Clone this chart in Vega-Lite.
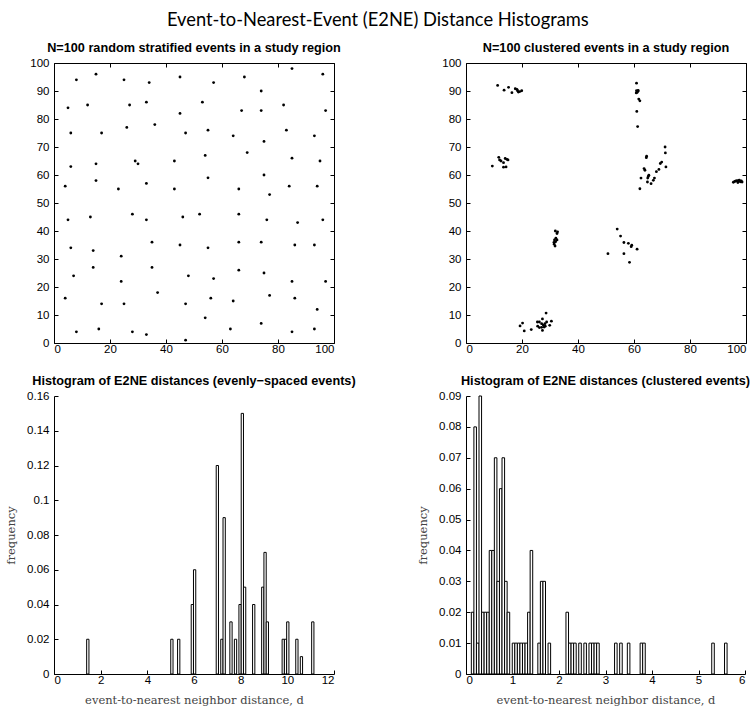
{
  "$schema": "https://vega.github.io/schema/vega-lite/v6.json",
  "background": "white",
  "padding": {"left": 5, "top": 11, "right": 0, "bottom": 0},
  "title": {"text": "Event-to-Nearest-Event (E2NE) Distance Histograms", "font": "Lato", "fontSize": 18.3, "fontWeight": "normal", "color": "black", "anchor": "middle", "offset": 12},
  "config": {
    "view": {"stroke": null},
    "axis": {"grid": false, "domainColor": "black", "domainWidth": 1, "tickColor": "black", "tickWidth": 1, "tickSize": -4, "labelColor": "black", "labelFont": "Liberation Sans", "labelFontSize": 11.5, "titleFont": "DejaVu Serif", "titleFontSize": 11.5, "titleFontWeight": "normal", "titleColor": "#444"},
    "axisX": {"labelPadding": 4},
    "axisY": {"labelPadding": 9},
    "title": {"font": "Liberation Sans", "fontSize": 12.7, "fontWeight": "bold", "color": "black", "offset": 2}
  },
  "datasets": {
    "stratified": [
      {"x": 8, "y": 94}, {"x": 15, "y": 96}, {"x": 25, "y": 94}, {"x": 34, "y": 93}, {"x": 45, "y": 95}, {"x": 57, "y": 93}, {"x": 68, "y": 95}, {"x": 74, "y": 90}, {"x": 85, "y": 98}, {"x": 96, "y": 96},
      {"x": 5, "y": 84}, {"x": 12, "y": 85}, {"x": 27, "y": 85}, {"x": 33, "y": 86}, {"x": 45, "y": 82}, {"x": 53, "y": 86}, {"x": 67, "y": 83}, {"x": 74, "y": 83}, {"x": 82, "y": 85}, {"x": 97, "y": 83},
      {"x": 6, "y": 75}, {"x": 17, "y": 75}, {"x": 26, "y": 77}, {"x": 36, "y": 78}, {"x": 47, "y": 75}, {"x": 55, "y": 76}, {"x": 64, "y": 74}, {"x": 75, "y": 72}, {"x": 83, "y": 76}, {"x": 93, "y": 74},
      {"x": 69, "y": 68}, {"x": 29, "y": 65}, {"x": 30, "y": 64}, {"x": 15, "y": 64}, {"x": 6, "y": 63}, {"x": 43, "y": 65}, {"x": 54, "y": 67}, {"x": 85, "y": 66}, {"x": 95, "y": 65},
      {"x": 4, "y": 56}, {"x": 15, "y": 58}, {"x": 23, "y": 55}, {"x": 33, "y": 57}, {"x": 43, "y": 55}, {"x": 55, "y": 59}, {"x": 66, "y": 55}, {"x": 75, "y": 60}, {"x": 77, "y": 53}, {"x": 84, "y": 56}, {"x": 94, "y": 56},
      {"x": 5, "y": 44}, {"x": 13, "y": 45}, {"x": 28, "y": 46}, {"x": 33, "y": 44}, {"x": 46, "y": 45}, {"x": 52, "y": 46}, {"x": 66, "y": 46}, {"x": 76, "y": 44}, {"x": 87, "y": 43}, {"x": 96, "y": 44},
      {"x": 6, "y": 34}, {"x": 14, "y": 33}, {"x": 35, "y": 36}, {"x": 45, "y": 35}, {"x": 55, "y": 34}, {"x": 66, "y": 36}, {"x": 74, "y": 36}, {"x": 86, "y": 35}, {"x": 93, "y": 35},
      {"x": 7, "y": 24}, {"x": 14, "y": 27}, {"x": 24, "y": 31}, {"x": 35, "y": 27}, {"x": 48, "y": 24}, {"x": 57, "y": 23}, {"x": 66, "y": 26}, {"x": 75, "y": 25}, {"x": 85, "y": 22}, {"x": 97, "y": 22}, {"x": 24, "y": 22},
      {"x": 4, "y": 16}, {"x": 17, "y": 14}, {"x": 25, "y": 14}, {"x": 37, "y": 18}, {"x": 47, "y": 14}, {"x": 56, "y": 16}, {"x": 64, "y": 15}, {"x": 77, "y": 17}, {"x": 86, "y": 16}, {"x": 94, "y": 12},
      {"x": 54, "y": 9}, {"x": 8, "y": 4}, {"x": 16, "y": 5}, {"x": 28, "y": 4}, {"x": 33, "y": 3}, {"x": 47, "y": 1}, {"x": 63, "y": 5}, {"x": 74, "y": 7}, {"x": 85, "y": 4}, {"x": 93, "y": 5}
    ],
    "clustered": [
      {"x": 11.3, "y": 92.0}, {"x": 13.6, "y": 90.3}, {"x": 15.2, "y": 91.3}, {"x": 16.4, "y": 89.4}, {"x": 17.6, "y": 90.8}, {"x": 18.4, "y": 90.1}, {"x": 18.7, "y": 89.6}, {"x": 19.9, "y": 90.1}, {"x": 18.2, "y": 90.6}, {"x": 19.2, "y": 89.8},
      {"x": 9.4, "y": 63.2}, {"x": 11.7, "y": 66.3}, {"x": 12.0, "y": 65.4}, {"x": 12.5, "y": 65.0}, {"x": 13.4, "y": 64.4}, {"x": 14.0, "y": 65.9}, {"x": 14.3, "y": 62.9}, {"x": 15.0, "y": 65.4}, {"x": 13.4, "y": 62.8}, {"x": 14.6, "y": 65.6},
      {"x": 31.9, "y": 40.0}, {"x": 32.5, "y": 39.1}, {"x": 32.7, "y": 39.7}, {"x": 31.6, "y": 36.8}, {"x": 32.0, "y": 36.2}, {"x": 31.5, "y": 35.3}, {"x": 31.8, "y": 34.6}, {"x": 32.5, "y": 36.8}, {"x": 32.1, "y": 37.4}, {"x": 31.4, "y": 35.9},
      {"x": 54.0, "y": 40.7}, {"x": 55.2, "y": 38.2}, {"x": 56.4, "y": 35.9}, {"x": 58.0, "y": 35.6}, {"x": 59.0, "y": 34.4}, {"x": 59.2, "y": 34.9}, {"x": 61.1, "y": 33.5}, {"x": 50.7, "y": 31.9}, {"x": 56.4, "y": 31.9}, {"x": 58.4, "y": 28.8},
      {"x": 60.9, "y": 92.8}, {"x": 60.9, "y": 90.1}, {"x": 61.1, "y": 89.5}, {"x": 61.5, "y": 90.2}, {"x": 60.8, "y": 89.3}, {"x": 61.7, "y": 87.1}, {"x": 62.1, "y": 86.5}, {"x": 61.0, "y": 82.7}, {"x": 61.3, "y": 77.3}, {"x": 61.4, "y": 89.9},
      {"x": 71.1, "y": 70.0}, {"x": 71.2, "y": 67.9}, {"x": 64.4, "y": 66.2}, {"x": 64.5, "y": 66.7}, {"x": 69.9, "y": 64.6}, {"x": 69.4, "y": 64.1}, {"x": 71.4, "y": 62.9}, {"x": 63.6, "y": 62.3}, {"x": 63.9, "y": 61.7}, {"x": 68.9, "y": 62.0},
      {"x": 68.0, "y": 61.2}, {"x": 62.5, "y": 58.9}, {"x": 65.1, "y": 59.5}, {"x": 64.9, "y": 58.9}, {"x": 67.3, "y": 58.9}, {"x": 66.9, "y": 58.1}, {"x": 64.8, "y": 57.5}, {"x": 66.1, "y": 56.9}, {"x": 62.1, "y": 55.1}, {"x": 65.3, "y": 59.9},
      {"x": 28.6, "y": 10.7}, {"x": 19.3, "y": 6.1}, {"x": 20.2, "y": 7.1}, {"x": 20.8, "y": 4.3}, {"x": 23.3, "y": 4.8}, {"x": 25.5, "y": 7.5}, {"x": 26.2, "y": 7.5}, {"x": 25.6, "y": 6.0}, {"x": 26.2, "y": 5.5}, {"x": 27.3, "y": 8.6},
      {"x": 27.0, "y": 6.9}, {"x": 27.6, "y": 6.4}, {"x": 28.2, "y": 6.9}, {"x": 28.3, "y": 6.0}, {"x": 27.9, "y": 5.7}, {"x": 28.8, "y": 7.5}, {"x": 27.3, "y": 4.5}, {"x": 29.9, "y": 6.3}, {"x": 30.5, "y": 7.8}, {"x": 27.0, "y": 5.6},
      {"x": 95.5, "y": 57.4}, {"x": 96.0, "y": 57.7}, {"x": 96.4, "y": 57.9}, {"x": 96.9, "y": 58.0}, {"x": 97.3, "y": 57.8}, {"x": 97.6, "y": 58.2}, {"x": 98.0, "y": 57.6}, {"x": 98.3, "y": 57.9}, {"x": 98.6, "y": 57.5}, {"x": 97.1, "y": 57.3}
    ],
    "hist_even": [
      {"bin_start": 1.4000, "bin_end": 1.4974, "frequency": 0.02},
      {"bin_start": 5.0038, "bin_end": 5.1012, "frequency": 0.02},
      {"bin_start": 5.2960, "bin_end": 5.3934, "frequency": 0.02},
      {"bin_start": 5.8804, "bin_end": 5.9778, "frequency": 0.04},
      {"bin_start": 5.9778, "bin_end": 6.0752, "frequency": 0.06},
      {"bin_start": 6.9518, "bin_end": 7.0492, "frequency": 0.12},
      {"bin_start": 7.1466, "bin_end": 7.2440, "frequency": 0.02},
      {"bin_start": 7.2440, "bin_end": 7.3414, "frequency": 0.09},
      {"bin_start": 7.5362, "bin_end": 7.6336, "frequency": 0.03},
      {"bin_start": 7.7310, "bin_end": 7.8284, "frequency": 0.02},
      {"bin_start": 7.9258, "bin_end": 8.0232, "frequency": 0.04},
      {"bin_start": 8.0232, "bin_end": 8.1206, "frequency": 0.15},
      {"bin_start": 8.1206, "bin_end": 8.2180, "frequency": 0.05},
      {"bin_start": 8.5102, "bin_end": 8.6076, "frequency": 0.04},
      {"bin_start": 8.8998, "bin_end": 8.9972, "frequency": 0.05},
      {"bin_start": 8.9972, "bin_end": 9.0946, "frequency": 0.07},
      {"bin_start": 9.0946, "bin_end": 9.1920, "frequency": 0.03},
      {"bin_start": 9.7764, "bin_end": 9.8738, "frequency": 0.02},
      {"bin_start": 9.8738, "bin_end": 9.9712, "frequency": 0.02},
      {"bin_start": 9.9712, "bin_end": 10.0686, "frequency": 0.03},
      {"bin_start": 10.3608, "bin_end": 10.4582, "frequency": 0.02},
      {"bin_start": 10.5556, "bin_end": 10.6530, "frequency": 0.01},
      {"bin_start": 11.0426, "bin_end": 11.1400, "frequency": 0.03}
    ],
    "hist_clustered": [
      {"bin_start": 0.1147, "bin_end": 0.1697, "frequency": 0.02},
      {"bin_start": 0.1697, "bin_end": 0.2247, "frequency": 0.08},
      {"bin_start": 0.2247, "bin_end": 0.2797, "frequency": 0.01},
      {"bin_start": 0.2797, "bin_end": 0.3347, "frequency": 0.09},
      {"bin_start": 0.3347, "bin_end": 0.3897, "frequency": 0.02},
      {"bin_start": 0.3897, "bin_end": 0.4447, "frequency": 0.02},
      {"bin_start": 0.4447, "bin_end": 0.4997, "frequency": 0.02},
      {"bin_start": 0.4997, "bin_end": 0.5547, "frequency": 0.04},
      {"bin_start": 0.5547, "bin_end": 0.6097, "frequency": 0.04},
      {"bin_start": 0.6097, "bin_end": 0.6647, "frequency": 0.07},
      {"bin_start": 0.6647, "bin_end": 0.7197, "frequency": 0.03},
      {"bin_start": 0.7197, "bin_end": 0.7747, "frequency": 0.06},
      {"bin_start": 0.7747, "bin_end": 0.8297, "frequency": 0.07},
      {"bin_start": 0.8297, "bin_end": 0.8847, "frequency": 0.03},
      {"bin_start": 0.8847, "bin_end": 0.9397, "frequency": 0.02},
      {"bin_start": 0.9947, "bin_end": 1.0497, "frequency": 0.01},
      {"bin_start": 1.0497, "bin_end": 1.1047, "frequency": 0.01},
      {"bin_start": 1.1047, "bin_end": 1.1597, "frequency": 0.01},
      {"bin_start": 1.1597, "bin_end": 1.2147, "frequency": 0.01},
      {"bin_start": 1.2147, "bin_end": 1.2697, "frequency": 0.01},
      {"bin_start": 1.2697, "bin_end": 1.3247, "frequency": 0.01},
      {"bin_start": 1.3247, "bin_end": 1.3797, "frequency": 0.02},
      {"bin_start": 1.3797, "bin_end": 1.4347, "frequency": 0.04},
      {"bin_start": 1.5447, "bin_end": 1.5997, "frequency": 0.01},
      {"bin_start": 1.5997, "bin_end": 1.6547, "frequency": 0.03},
      {"bin_start": 1.6547, "bin_end": 1.7097, "frequency": 0.03},
      {"bin_start": 1.7647, "bin_end": 1.8197, "frequency": 0.01},
      {"bin_start": 2.1497, "bin_end": 2.2047, "frequency": 0.02},
      {"bin_start": 2.2047, "bin_end": 2.2597, "frequency": 0.01},
      {"bin_start": 2.2597, "bin_end": 2.3147, "frequency": 0.01},
      {"bin_start": 2.3147, "bin_end": 2.3697, "frequency": 0.01},
      {"bin_start": 2.4247, "bin_end": 2.4797, "frequency": 0.01},
      {"bin_start": 2.5347, "bin_end": 2.5897, "frequency": 0.01},
      {"bin_start": 2.6447, "bin_end": 2.6997, "frequency": 0.01},
      {"bin_start": 2.6997, "bin_end": 2.7547, "frequency": 0.01},
      {"bin_start": 2.7547, "bin_end": 2.8097, "frequency": 0.01},
      {"bin_start": 2.8097, "bin_end": 2.8647, "frequency": 0.01},
      {"bin_start": 3.1947, "bin_end": 3.2497, "frequency": 0.01},
      {"bin_start": 3.3047, "bin_end": 3.3597, "frequency": 0.01},
      {"bin_start": 3.4697, "bin_end": 3.5247, "frequency": 0.01},
      {"bin_start": 3.7447, "bin_end": 3.7997, "frequency": 0.01},
      {"bin_start": 3.7997, "bin_end": 3.8547, "frequency": 0.01},
      {"bin_start": 5.2847, "bin_end": 5.3397, "frequency": 0.01},
      {"bin_start": 5.5597, "bin_end": 5.6147, "frequency": 0.01}
    ]
  },
  "columns": 2,
  "spacing": {"row": 53, "column": 132},
  "bounds": "flush",
  "concat": [
    {
      "title": {"text": "N=100 random stratified events in a study region"},
      "width": 280, "height": 280,
      "data": {"name": "stratified"},
      "layer": [
        {
          "mark": {"type": "circle", "size": 8, "color": "black", "opacity": 1},
          "encoding": {
            "x": {"field": "x", "type": "quantitative", "scale": {"domain": [0, 100], "nice": false}, "axis": {"values": [0, 20, 40, 60, 80, 100], "title": null}},
            "y": {"field": "y", "type": "quantitative", "scale": {"domain": [0, 100], "nice": false}, "axis": {"values": [0, 10, 20, 30, 40, 50, 60, 70, 80, 90, 100], "title": null}}
          }
        },
        {
          "mark": {"type": "circle", "size": 8, "opacity": 0},
          "encoding": {
            "x": {"field": "x", "type": "quantitative", "axis": {"orient": "top", "values": [0, 20, 40, 60, 80, 100], "labels": false, "title": null}},
            "y": {"field": "y", "type": "quantitative", "axis": {"orient": "right", "values": [0, 10, 20, 30, 40, 50, 60, 70, 80, 90, 100], "labels": false, "title": null}}
          }
        }
      ],
      "resolve": {"axis": {"x": "independent", "y": "independent"}}
    },
    {
      "title": {"text": "N=100 clustered events in a study region"},
      "width": 280, "height": 280,
      "data": {"name": "clustered"},
      "layer": [
        {
          "mark": {"type": "circle", "size": 8, "color": "black", "opacity": 1},
          "encoding": {
            "x": {"field": "x", "type": "quantitative", "scale": {"domain": [0, 100], "nice": false}, "axis": {"values": [0, 20, 40, 60, 80, 100], "title": null}},
            "y": {"field": "y", "type": "quantitative", "scale": {"domain": [0, 100], "nice": false}, "axis": {"values": [0, 10, 20, 30, 40, 50, 60, 70, 80, 90, 100], "title": null}}
          }
        },
        {
          "mark": {"type": "circle", "size": 8, "opacity": 0},
          "encoding": {
            "x": {"field": "x", "type": "quantitative", "axis": {"orient": "top", "values": [0, 20, 40, 60, 80, 100], "labels": false, "title": null}},
            "y": {"field": "y", "type": "quantitative", "axis": {"orient": "right", "values": [0, 10, 20, 30, 40, 50, 60, 70, 80, 90, 100], "labels": false, "title": null}}
          }
        }
      ],
      "resolve": {"axis": {"x": "independent", "y": "independent"}}
    },
    {
      "title": {"text": "Histogram of E2NE distances (evenly−spaced events)"},
      "width": 280, "height": 278,
      "data": {"name": "hist_even"},
      "mark": {"type": "rect", "fill": "white", "stroke": "black", "strokeWidth": 1},
      "encoding": {
        "x": {"field": "bin_start", "type": "quantitative", "scale": {"domain": [0, 12], "nice": false}, "axis": {"values": [0, 2, 4, 6, 8, 10, 12], "title": "event-to-nearest neighbor distance, d", "titlePadding": 9}},
        "x2": {"field": "bin_end"},
        "y": {"field": "frequency", "type": "quantitative", "scale": {"domain": [0, 0.16], "nice": false}, "axis": {"values": [0, 0.02, 0.04, 0.06, 0.08, 0.1, 0.12, 0.14, 0.16], "format": ".2~f", "title": "frequency", "titlePadding": 10}},
        "y2": {"datum": 0}
      }
    },
    {
      "title": {"text": "Histogram of E2NE distances (clustered events)"},
      "width": 279, "height": 278,
      "data": {"name": "hist_clustered"},
      "mark": {"type": "rect", "fill": "white", "stroke": "black", "strokeWidth": 1},
      "encoding": {
        "x": {"field": "bin_start", "type": "quantitative", "scale": {"domain": [0, 6], "nice": false}, "axis": {"values": [0, 1, 2, 3, 4, 5, 6], "title": "event-to-nearest neighbor distance, d", "titlePadding": 9}},
        "x2": {"field": "bin_end"},
        "y": {"field": "frequency", "type": "quantitative", "scale": {"domain": [0, 0.09], "nice": false}, "axis": {"values": [0, 0.01, 0.02, 0.03, 0.04, 0.05, 0.06, 0.07, 0.08, 0.09], "format": ".2~f", "title": "frequency", "titlePadding": 10}},
        "y2": {"datum": 0}
      }
    }
  ]
}
